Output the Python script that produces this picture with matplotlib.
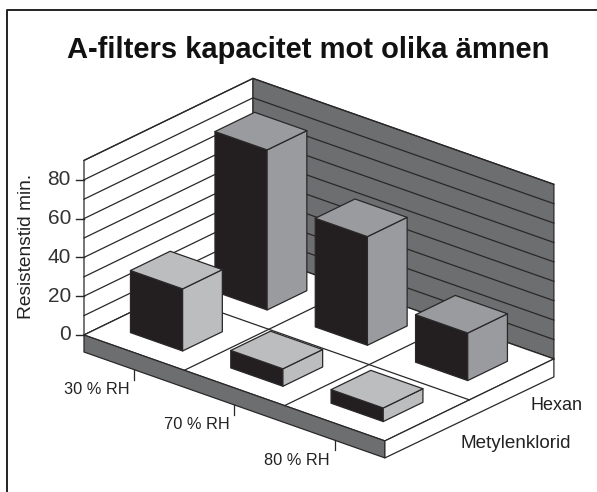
import matplotlib
matplotlib.use('Agg')
import matplotlib.pyplot as plt
from matplotlib.patches import Polygon

categories = ['30 % RH', '70 % RH', '80 % RH']
series = ['Metylenklorid', 'Hexan']
metylenklorid = [32, 9, 7]
hexan = [82.5, 56, 24.5]
yTicks = [0, 20, 40, 60, 80]
yMax = 90
yGridStep = 10

DARK = '#231f20'
WALL = '#6d6e70'
SIDE = '#9a9b9e'
SIDE_LIGHT = '#bcbdbf'
LINE = '#2a2728'

# pixel positions of the floor corner and the unit vectors of the oblique view
originPt = (84.0, 335.0)
xVec = (100.3, 35.3)
yVec = (84.5, -41.0)
zScale = 1.94
slabH = 17.0
barW = 0.52
barD = 0.47

plt.rcParams['font.family'] = ['Liberation Sans', 'DejaVu Sans']

def proj(x, y, z=0.0):
    return (originPt[0] + x * xVec[0] + y * yVec[0],
            originPt[1] + x * xVec[1] + y * yVec[1] - z * zScale)

def face(ax, pts, color, lw=0.9):
    # same zorder as the lines, so drawing order decides what is on top
    ax.add_patch(Polygon(pts, closed=True, facecolor=color, edgecolor=LINE,
                         linewidth=lw, joinstyle='round', zorder=2))

def drop(pt, dy):
    return (pt[0], pt[1] + dy)

def drawBar(ax, cat, ser, value, sideColor, topColor):
    x0 = cat + 0.5 - barW / 2
    x1 = cat + 0.5 + barW / 2
    y0 = ser + 0.5 - barD / 2
    y1 = ser + 0.5 + barD / 2
    face(ax, [proj(x0, y0), proj(x1, y0), proj(x1, y0, value), proj(x0, y0, value)], DARK)
    face(ax, [proj(x1, y0), proj(x1, y1), proj(x1, y1, value), proj(x1, y0, value)], sideColor)
    face(ax, [proj(x0, y0, value), proj(x1, y0, value), proj(x1, y1, value), proj(x0, y1, value)], topColor)

nCat = len(categories)
nSer = len(series)

fig = plt.figure(figsize=(5.97, 4.92), dpi=100, facecolor='white')
ax = fig.add_axes([0, 0, 1, 1])
ax.set_xlim(0, 597)
ax.set_ylim(492, 0)
ax.axis('off')

# outer frame, only left and top are inside the crop
ax.plot([7, 7, 597], [492, 10, 10], color='#222222', lw=1.4)

ax.text(308.5, 50, 'A-filters kapacitet mot olika ämnen', ha='center', va='center',
        fontsize=21, fontweight='bold', color='#111111')

# walls
face(ax, [proj(0, 0), proj(0, nSer), proj(0, nSer, yMax), proj(0, 0, yMax)], 'white')
face(ax, [proj(0, nSer), proj(nCat, nSer), proj(nCat, nSer, yMax), proj(0, nSer, yMax)], WALL)
z = 0
while z <= yMax:
    a = proj(0, 0, z)
    b = proj(0, nSer, z)
    c = proj(nCat, nSer, z)
    ax.plot([a[0], b[0], c[0]], [a[1], b[1], c[1]], color=LINE, lw=0.9)
    z += yGridStep

# floor slab
a, b, c, d = proj(0, 0), proj(nCat, 0), proj(nCat, nSer), proj(0, nSer)
face(ax, [a, b, c, d], 'white')
face(ax, [a, b, drop(b, slabH), drop(a, slabH)], WALL)
face(ax, [b, c, drop(c, slabH + 1), drop(b, slabH)], 'white')
for i in range(1, nCat):
    p, q = proj(i, 0), proj(i, nSer)
    ax.plot([p[0], q[0]], [p[1], q[1]], color=LINE, lw=0.9)
for j in range(1, nSer):
    p, q = proj(0, j), proj(nCat, j)
    ax.plot([p[0], q[0]], [p[1], q[1]], color=LINE, lw=0.9)

# bars, back row first
for i, v in enumerate(hexan):
    drawBar(ax, i, 1, v, SIDE, SIDE)
for i, v in enumerate(metylenklorid):
    drawBar(ax, i, 0, v, SIDE_LIGHT, SIDE_LIGHT)

# y axis
for t in yTicks:
    p = proj(0, 0, t)
    ax.plot([p[0] - 8, p[0]], [p[1], p[1]], color=LINE, lw=1.0)
    ax.text(p[0] - 13, p[1], str(t), ha='right', va='center', fontsize=15, color='#333333')
ax.text(27, 246, 'Resistenstid min.', rotation=90, ha='center', va='center',
        fontsize=13.8, color='#222222')

# category ticks and labels
for i, name in enumerate(categories):
    p = drop(proj(i + 0.5, 0), slabH)
    ax.plot([p[0], p[0]], [p[1], p[1] + 10], color=LINE, lw=0.9)
    ax.text(p[0] - 5, p[1] + 20, name, ha='right', va='center', fontsize=11.8, color='#222222')

ax.text(582, 405, series[1], ha='right', va='center', fontsize=13, color='#222222')
ax.text(571, 444, series[0], ha='right', va='center', fontsize=13.6, color='#222222')

fig.savefig('out.png', dpi=100)
